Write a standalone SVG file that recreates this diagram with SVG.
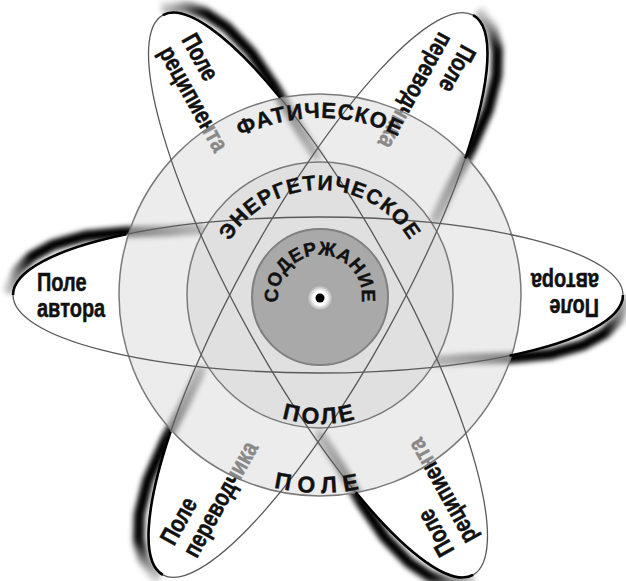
<svg xmlns="http://www.w3.org/2000/svg" width="626" height="581" viewBox="0 0 626 581">
<style>
.petal{fill:#fff}
.edge{fill:none;stroke:#5a5a5a;stroke-width:1.3}
.rim{fill:none;stroke:#000;stroke-width:2.6}
.shadow{fill:none;stroke:url(#sg);stroke-width:11;stroke-linecap:round;stroke-linejoin:round;filter:url(#blur)}
.ptxt{font-family:"Liberation Sans",Arial,sans-serif;font-weight:bold;font-size:25px;fill:#111;stroke:#111;stroke-width:0.5}
.rtxt{font-family:"Liberation Sans",Arial,sans-serif;font-weight:bold;fill:#111;stroke:#111;stroke-width:0.4}
.ring{stroke:#7a7a7a;stroke-width:1.5}
</style>
<defs>
<filter id="blur" x="-30%" y="-30%" width="160%" height="160%"><feGaussianBlur stdDeviation="2.8"/></filter>
<linearGradient id="sg" gradientUnits="userSpaceOnUse" x1="-310" y1="0" x2="-118" y2="0">
<stop offset="0" stop-color="#000" stop-opacity="0.2"/><stop offset="0.12" stop-color="#000"/><stop offset="0.6" stop-color="#000"/><stop offset="1" stop-color="#000" stop-opacity="0.5"/>
</linearGradient>
<radialGradient id="dot"><stop offset="0.55" stop-color="#fff"/><stop offset="1" stop-color="#a0a0a0"/></radialGradient>
<path id="sh" d="M-309,-6 L-301,-24 L-287,-38 L-265,-50 L-233,-59 L-192,-63 L-150,-64 L-118,-66"/>
<clipPath id="outside"><path clip-rule="evenodd" d="M0,0H626V581H0Z M119,295 a201,201 0 1 0 402,0 a201,201 0 1 0 -402,0Z"/></clipPath>
<path id="pF" d="M143,295 A177,177 0 0 1 497,295"/>
<path id="pE" d="M229.1,347.5 A105,105 0 1 1 410.9,347.5"/>
<path id="pS" d="M280.5,311.4 A42,42 0 1 1 359.5,311.4"/>
<path id="pP1" d="M191,295 A129,129 0 0 0 449,295"/>
<path id="pP2" d="M122,295 A198,198 0 0 0 518,295"/>
</defs>

<g id="shadows">
<g transform="translate(318,295)"><use href="#sh" class="shadow"/><use href="#sh" class="shadow" transform="rotate(180)"/></g>
<g transform="translate(318,295) rotate(61) scale(1.05,1)"><use href="#sh" class="shadow"/><use href="#sh" class="shadow" transform="rotate(180)"/></g>
<g transform="translate(318,295) rotate(119) scale(1.05,1)"><use href="#sh" class="shadow"/><use href="#sh" class="shadow" transform="rotate(180)"/></g>
</g>

<g id="petal-fills" clip-path="url(#outside)">
<ellipse class="petal" cx="318" cy="295" rx="305" ry="78"/>
<ellipse class="petal" transform="translate(318,295) rotate(61)" cx="0" cy="0" rx="320" ry="78"/>
<ellipse class="petal" transform="translate(318,295) rotate(119)" cx="0" cy="0" rx="320" ry="78"/>
</g>

<g id="petal-author" transform="translate(318,295)">
<text class="ptxt" transform="translate(-281,-4) scale(0.8,1)">Поле</text>
<text class="ptxt" transform="translate(-281,22) scale(0.8,1)">автора</text>
<g transform="rotate(180)">
<text class="ptxt" transform="translate(-281,-4) scale(0.8,1)">Поле</text>
<text class="ptxt" transform="translate(-281,22) scale(0.8,1)">автора</text>
</g>
</g>
<g id="petal-recipient" transform="translate(318,295) rotate(61)">
<text class="ptxt" transform="translate(-290,-4) scale(0.8,1)">Поле</text>
<text class="ptxt" transform="translate(-290,22) scale(0.8,1)">реципиента</text>
<g transform="rotate(180)">
<text class="ptxt" transform="translate(-290,-4) scale(0.8,1)">Поле</text>
<text class="ptxt" transform="translate(-290,22) scale(0.8,1)">реципиента</text>
</g>
</g>
<g id="petal-translator" transform="translate(318,295) rotate(119)">
<text class="ptxt" transform="translate(-290,-4) scale(0.8,1)">Поле</text>
<text class="ptxt" transform="translate(-290,22) scale(0.8,1)">переводчика</text>
<g transform="rotate(180)">
<text class="ptxt" transform="translate(-290,-4) scale(0.8,1)">Поле</text>
<text class="ptxt" transform="translate(-290,22) scale(0.8,1)">переводчика</text>
</g>
</g>

<g id="phatic-ring"><circle class="ring" cx="320" cy="295" r="201" fill="#dfdfdf" fill-opacity="0.58"/></g>
<g id="energy-ring"><circle class="ring" cx="320" cy="295" r="133" fill="#e0e0e0"/></g>

<g id="connectors">
<g transform="translate(318,295)">
<ellipse class="edge" rx="305" ry="78"/>
<path class="rim" d="M-305,0 A305,78 0 0 1 -191.6,-60.7"/>
<path class="rim" transform="rotate(180)" d="M-305,0 A305,78 0 0 1 -191.6,-60.7"/>
</g>
<g transform="translate(318,295) rotate(61)">
<ellipse class="edge" rx="320" ry="78"/>
<path class="rim" d="M-320,0 A320,78 0 0 1 -191,-62.6"/>
<path class="rim" transform="rotate(180)" d="M-320,0 A320,78 0 0 1 -191,-62.6"/>
</g>
<g transform="translate(318,295) rotate(119)">
<ellipse class="edge" rx="320" ry="78"/>
<path class="rim" d="M-320,0 A320,78 0 0 1 -191,-62.6"/>
<path class="rim" transform="rotate(180)" d="M-320,0 A320,78 0 0 1 -191,-62.6"/>
</g>
</g>

<g id="content">
<circle cx="320" cy="297" r="68" fill="#a9a9a9" stroke="#808080" stroke-width="2"/>
<circle cx="320" cy="298" r="13" fill="url(#dot)"/>
<circle cx="320" cy="298" r="4.5" fill="#000"/>
</g>

<g id="labels">
<text class="rtxt" font-size="22" letter-spacing="1.1"><textPath href="#pF" startOffset="50%" text-anchor="middle">ФАТИЧЕСКОЕ</textPath></text>
<text class="rtxt" font-size="21" letter-spacing="1.3"><textPath href="#pE" startOffset="50%" text-anchor="middle">ЭНЕРГЕТИЧЕСКОЕ</textPath></text>
<text class="rtxt" font-size="19" letter-spacing="0.5"><textPath href="#pS" startOffset="50%" text-anchor="middle">СОДЕРЖАНИЕ</textPath></text>
<text class="rtxt" font-size="23" letter-spacing="3"><textPath href="#pP1" startOffset="50%" text-anchor="middle">ПОЛЕ</textPath></text>
<text class="rtxt" font-size="23" letter-spacing="7"><textPath href="#pP2" startOffset="50%" text-anchor="middle">ПОЛЕ</textPath></text>
</g>
</svg>
